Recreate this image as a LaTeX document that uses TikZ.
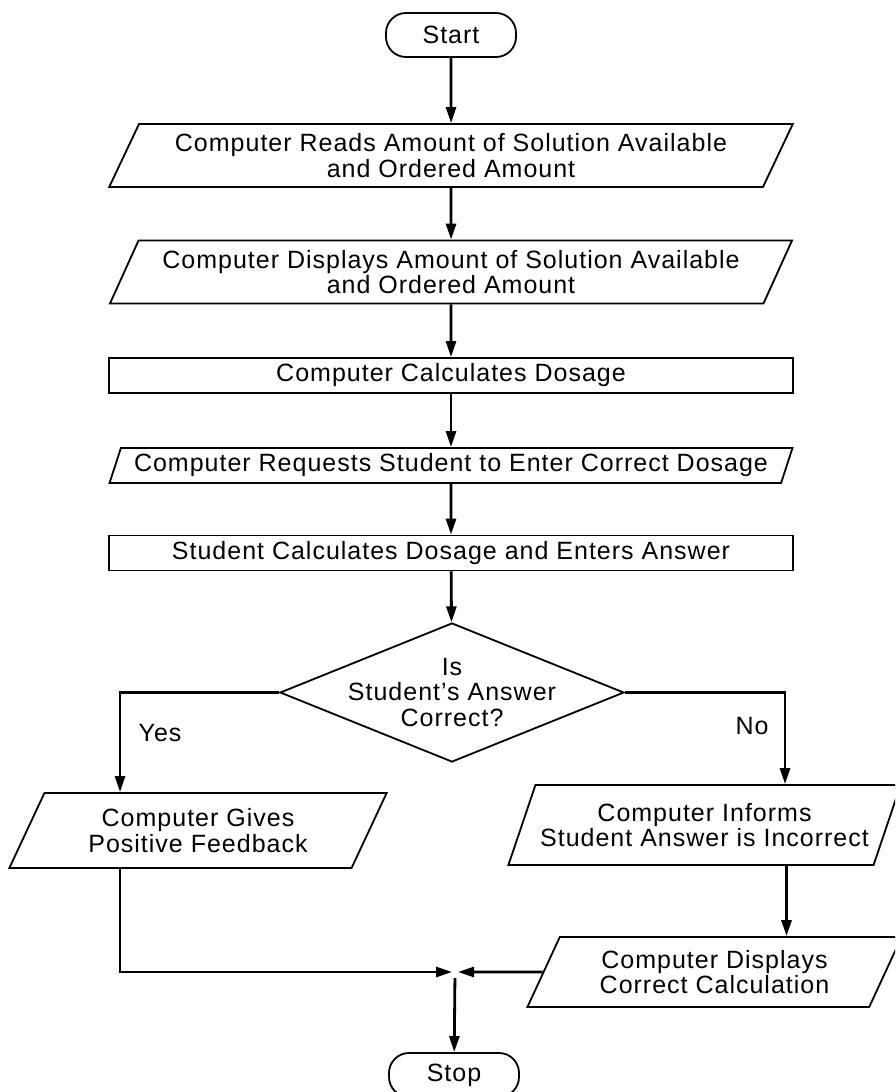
\documentclass[tikz,border=0pt]{standalone}
\usepackage{fontspec}
\setmainfont{Liberation Sans}[LetterSpace = 4]
\usepackage{tikz}
\usetikzlibrary{arrows.meta}
\usetikzlibrary{positioning}
\usetikzlibrary{shapes.geometric}
\tikzset{terminal/.style = {draw, rectangle, line width = 0.9pt, rounded corners = 10pt, minimum width = 65pt, minimum height = 22pt, inner sep = 0}}
\tikzset{io/.style = {draw, trapezium, trapezium stretches = true, line width = 0.9pt, align = center, inner sep = 1pt}}
\tikzset{box/.style = {draw, rectangle, line width = 0.9pt, minimum width = 342pt, minimum height = 17.5pt, inner sep = 0}}
\tikzset{decision/.style = {draw, diamond, line width = 0.9pt, minimum width = 172pt, minimum height = 69.5pt, inner sep = 0}}
\tikzset{flow/.style = {-{Triangle[length = 8pt, width = 5pt]}, line width = 1.4pt}}

\begin{document}
\begin{tikzpicture}[x = 0.5pt, y = -0.5pt, font = \fontsize{12.5}{12.8}\selectfont]
    \useasboundingbox (0, 0) rectangle (895, 1092);
    \clip (0, 0) rectangle (895, 1092);

    \node [terminal] (start) at (451, 35) {Start};
    \node [io, minimum width = 342pt, minimum height = 31.5pt, trapezium left angle = 61, trapezium right angle = 119] (read) at (451, 155.5) {Computer Reads Amount of Solution Available\\and Ordered Amount};
    \node [io, minimum width = 342pt, minimum height = 31.5pt, trapezium left angle = 61, trapezium right angle = 119] (show) at (451, 272) {Computer Displays Amount of Solution Available\\and Ordered Amount};
    \node [box] (calc) at (451, 375.5) {Computer Calculates Dosage};
    \node [io, minimum width = 342.5pt, minimum height = 17.5pt, trapezium left angle = 68, trapezium right angle = 112] (ask) at (451, 465.5) {Computer Requests Student to Enter Correct Dosage};
    \node [box] (enter) at (451, 553) {Student Calculates Dosage and Enters Answer};
    \node [decision] (test) at (452, 692.5) {};
    \node [align = center] (question) at (test) {Is\\Student's Answer\\Correct?};
    \node (yeslabel) at (160, 733) {Yes};
    \node (nolabel) at (752, 726) {No};

    \node [io, minimum width = 189pt, minimum height = 37.5pt, trapezium left angle = 62, trapezium right angle = 118] (praise) at (198, 830.5) {Computer Gives\\Positive Feedback};
    \node [io, minimum width = 196.5pt, minimum height = 40pt, trapezium left angle = 61, trapezium right angle = 119] (wrong) at (704.5, 825) {Computer Informs\\Student Answer is Incorrect};
    \node [io, minimum width = 187.5pt, minimum height = 35pt, trapezium left angle = 63, trapezium right angle = 117] (solution) at (714.5, 972) {Computer Displays\\Correct Calculation};
    \coordinate (join) at (455, 972);
    \node [terminal] (stop) at (454, 1075) {Stop};

    \draw [flow] (start) -- (read);
    \draw [flow] (read) -- (show);
    \draw [flow] (show) -- (calc);
    \draw [flow] (calc) -- (ask);
    \draw [flow] (ask) -- (enter);
    \draw [flow] (enter) -- (test);
    \draw [flow] (test.west) -| ([xshift = -39pt] praise.north);
    \draw [flow] (test.east) -| ([xshift = 40.25pt] wrong.north);
    \draw [flow] ([xshift = 41pt] wrong.south) -- ([xshift = 36pt] solution.north);
    \draw [flow, shorten > = 1.5pt] ([xshift = -39pt] praise.south) |- (join);
    \draw [flow, shorten > = 1.5pt] (solution.west) -- (join);
    \draw [flow, shorten < = 3pt] (join) -- (stop);
\end{tikzpicture}
\end{document}
